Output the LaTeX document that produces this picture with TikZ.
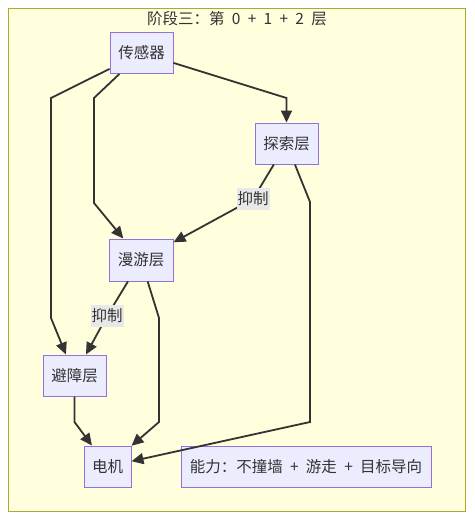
\documentclass[tikz,border=0pt]{standalone}
\usepackage{fontspec}
\setmainfont[WordSpace=2.1]{Noto Sans CJK SC}
\usetikzlibrary{arrows.meta}
\definecolor{clfill}{HTML}{FFFFDE}
\definecolor{clline}{HTML}{AAAA33}
\definecolor{nfill}{HTML}{ECECFF}
\definecolor{nline}{HTML}{9370DB}
\definecolor{ink}{HTML}{333333}
\definecolor{lblbg}{HTML}{E8E8E8}
\tikzset{
  box/.style={draw=nline, fill=nfill, line width=1pt, inner sep=0pt, minimum height=41pt, text=ink, font=\fontsize{15.5}{18}\selectfont},
  edge/.style={draw=ink, line width=1.8pt, -{Triangle[length=12pt,width=11pt]}},
  lbl/.style={fill=lblbg, inner sep=1pt, minimum height=22pt, text=ink, font=\fontsize{15.5}{18}\selectfont},
}
\begin{document}
\begin{tikzpicture}[x=1pt,y=-1pt]
\useasboundingbox (0,0) rectangle (474,522);
\fill[white] (0,0) rectangle (474,522);
\draw[clline, fill=clfill, line width=1pt] (8.5,8.5) rectangle (465.5,511.5);
\node[text=ink, font=\fontsize{15.5}{18}\selectfont] (title) at (237,19) {阶段三：第 0 + 1 + 2 层};

\node[box, minimum width=63pt] (sensor) at (141.5,53) {传感器};
\node[box, minimum width=63pt] (explore) at (286.5,143.5) {探索层};
\node[box, minimum width=64pt, minimum height=42pt] (roam) at (141,260) {漫游层};
\node[box, minimum width=63pt] (avoid) at (74.5,375.5) {避障层};
\node[box, minimum width=47pt] (motor) at (107.5,466.5) {电机};
\node[box, minimum width=250pt] (cap) at (306,466.5) {能力：不撞墙 + 游走 + 目标导向};

\draw[edge] (sensor) -- (51,98) -- (51,318) -- (avoid);
\draw[edge] (sensor) -- (94,98) -- (94,203) -- (roam);
\draw[edge] (sensor) -- (286.5,98) -- (explore);
\draw[edge] (explore) -- (253,199) -- (roam);
\draw[edge] (explore) -- (310,202) -- (310,422) -- (motor);
\draw[edge] (roam) -- (107,316) -- (avoid);
\draw[edge] (roam) -- (159,318) -- (159,422) -- (motor);
\draw[edge] (avoid) -- (74.5,422) -- (motor);

\node[lbl] (l1) at (253,199) {抑制};
\node[lbl] (l2) at (107,316) {抑制};
\end{tikzpicture}
\end{document}
